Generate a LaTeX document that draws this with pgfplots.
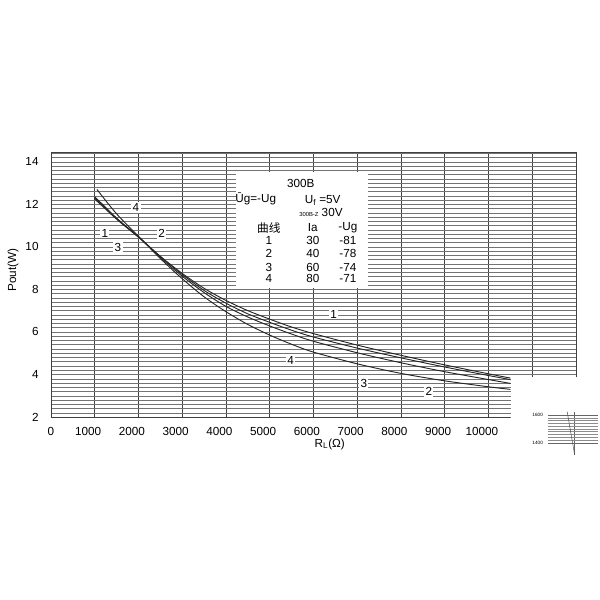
\documentclass[border=0pt]{standalone}
\usepackage{fontspec}
\setmainfont{Liberation Sans}
\newfontfamily\cjk{Noto Sans CJK SC}
\usepackage{pgfplots}
\pgfplotsset{compat=1.18}
\pgfplotsset{/pgf/number format/1000 sep={}, /pgf/number format/assume math mode=true}

\begin{document}
\begin{tikzpicture}
\begin{axis}[
    name=main,
    at={(0,0)}, anchor=south west,
    scale only axis,
    width=15.75cm, height=7.95cm,
    xmin=0, xmax=12000, ymin=2, ymax=14.46,
    xtick={0,1000,...,12000},
    xticklabels={{\makebox[0pt]{\hspace{0.4cm}0}},1000,2000,3000,4000,5000,6000,7000,8000,9000,10000,,},
    ytick={2,4,...,14},
    minor ytick={2,2.2,...,14.45},
    xmajorgrids=true, ymajorgrids=false, yminorgrids=true,
    major grid style={black!75, line width=0.5pt},
    minor grid style={black!55, line width=0.35pt},
    axis line style={draw=none},
    tick style={draw=none},
    scaled x ticks=false,
    xticklabel style={xshift=-0.2cm, yshift=-0.18cm},
    yticklabel style={xshift=-0.25cm},
    xlabel={R\textsubscript{L}(Ω)},
    ylabel={Pout(W)},
    xlabel style={at={(axis description cs:0.531,-0.102)}, anchor=center},
    ylabel style={at={(axis description cs:-0.072,0.555)}, anchor=center},
    clip=false,
]
% white patches of the scan
\fill[white] (axis cs:10520,1.95) rectangle (axis cs:12100,3.88);
\fill[white] (axis cs:4225,8.07) rectangle (axis cs:7245,13.52);

% frame
\draw[black!75, line width=0.5pt] (axis cs:0,2) -- (axis cs:0,14.46) -- (axis cs:12000,14.46) -- (axis cs:12000,3.88);
\draw[black!75, line width=0.5pt] (axis cs:0,2) -- (axis cs:10500,2);

% curves
\addplot[smooth, black!85, line width=0.8pt] coordinates {
(1000,12.25) (1500,11.30) (2000,10.45) (2500,9.55) (3000,8.75) (3500,8.05) (4000,7.48) (4500,7.00)
(5000,6.60) (5500,6.23) (6000,5.92) (7000,5.38) (8000,4.90) (9000,4.45) (10000,4.03) (10500,3.83)};
\addplot[smooth, black!85, line width=0.8pt] coordinates {
(1000,12.36) (1500,11.35) (2000,10.47) (2500,9.55) (3000,8.70) (3500,7.95) (4000,7.35) (4500,6.85)
(5000,6.45) (5500,6.08) (6000,5.76) (7000,5.24) (8000,4.78) (9000,4.35) (10000,3.95) (10500,3.76)};
\addplot[smooth, black!85, line width=0.8pt] coordinates {
(1000,12.31) (1500,11.33) (2000,10.47) (2500,9.50) (3000,8.62) (3500,7.85) (4000,7.20) (4500,6.70)
(5000,6.28) (5500,5.90) (6000,5.56) (7000,5.02) (8000,4.55) (9000,4.13) (10000,3.76) (10500,3.58)};
\addplot[smooth, black!85, line width=0.8pt] coordinates {
(1050,12.70) (1500,11.55) (2000,10.50) (2500,9.45) (3000,8.50) (3500,7.65) (4000,6.95) (4500,6.35)
(5000,5.85) (5500,5.42) (6000,5.05) (7000,4.50) (8000,4.05) (9000,3.70) (10000,3.42) (10500,3.30)};

% curve numbers
\begin{scope}[every node/.style={fill=white, inner sep=1.2pt}]
\node at (axis cs:1940,11.83) {4};
\node at (axis cs:1230,10.65) {1};
\node at (axis cs:2530,10.65) {2};
\node at (axis cs:1530,9.99) {3};
\node at (axis cs:6460,6.84) {1};
\node at (axis cs:5480,4.68) {4};
\node at (axis cs:7150,3.60) {3};
\node at (axis cs:8635,3.18) {2};
\end{scope}

% table
\node at (axis cs:5710,13.0) {300B};
\node at (axis cs:4680,12.25) {Ūg=-Ug};
\node at (axis cs:6210,12.2) {U\textsubscript{f} =5V};
\node at (axis cs:6170,11.6) {{\tiny 300B-Z} 30V};
\node at (axis cs:4980,10.89) {\cjk 曲线};
\node at (axis cs:5985,10.89) {Ia};
\node at (axis cs:6785,10.89) {-Ug};
\node at (axis cs:4980,10.32) {1};
\node at (axis cs:5985,10.32) {30};
\node at (axis cs:6785,10.32) {-81};
\node at (axis cs:4980,9.71) {2};
\node at (axis cs:5985,9.71) {40};
\node at (axis cs:6785,9.71) {-78};
\node at (axis cs:4980,9.05) {3};
\node at (axis cs:5985,9.05) {60};
\node at (axis cs:6785,9.05) {-74};
\node at (axis cs:4980,8.53) {4};
\node at (axis cs:5985,8.53) {80};
\node at (axis cs:6785,8.53) {-71};
\end{axis}

% fragment of a second chart at lower right
\begin{axis}[
    at={(14.90cm,-1.14cm)}, anchor=south west,
    scale only axis,
    width=1.5cm, height=1.30cm,
    xmin=0, xmax=1, ymin=1311, ymax=1624,
    xtick={0.54}, xticklabels={},
    ytick={1400,1600},
    minor y tick num=9,
    grid=both,
    major grid style={black!60, line width=0.3pt},
    minor grid style={black!45, line width=0.25pt},
    axis line style={draw=none},
    tick style={draw=none},
    yticklabel style={font=\fontsize{4}{4}\selectfont, xshift=-0.02cm},
]
\addplot[black!70, line width=0.4pt] coordinates {(0.39,1624) (0.54,1311)};
\end{axis}

\path (-1.53,-5.49) rectangle (16.47,12.51);
\end{tikzpicture}
\end{document}
